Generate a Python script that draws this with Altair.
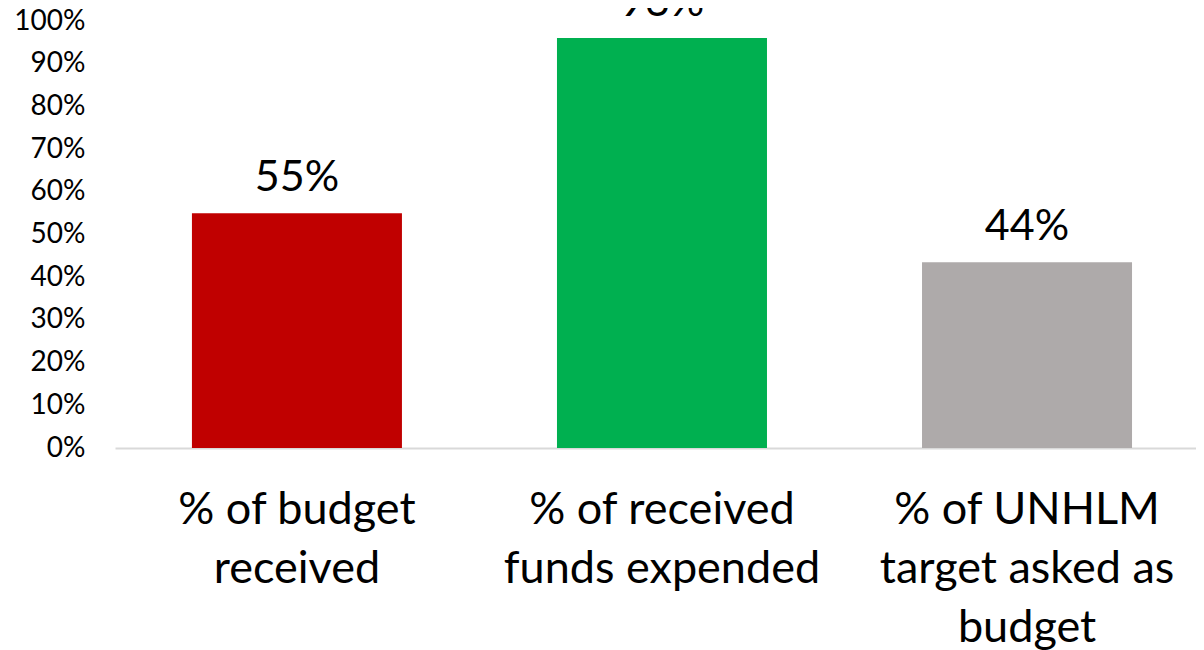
import altair as alt
import pandas as pd

categories = ["% of budget\nreceived", "% of received\nfunds expended", "% of UNHLM\ntarget asked as\nbudget"]
values = [0.55, 0.96, 0.435]
labels = ["55%", "96%", "44%"]
colors = ["#C00000", "#00B050", "#AEAAAA"]
y_ticks = [0.0, 0.1, 0.2, 0.3, 0.4, 0.5, 0.6, 0.7, 0.8, 0.9, 1.0]

df = pd.DataFrame({"cat": categories, "val": values, "lab": labels, "col": colors})

FONT = "Lato"

base = alt.Chart(df).encode(
    x=alt.X("cat:N", sort=categories,
            scale=alt.Scale(paddingInner=0.4247, paddingOuter=0.193, align=0.546),
            axis=alt.Axis(title=None, labelAngle=0, labelFont=FONT, labelFontSize=45,
                          labelColor="#000000", labelPadding=75, labelLineHeight=59,
                          labelBaseline="alphabetic",
                          labelExpr="split(datum.value, '\\n')",
                          domainColor="#D9D9D9", domainWidth=2, ticks=False,
                          labelLimit=0)),
)

bars = base.mark_bar().encode(
    y=alt.Y("val:Q", scale=alt.Scale(domain=[0, 1]),
            axis=alt.Axis(title=None, format=".0%", values=y_ticks, labelOverlap=False,
                          labelFont=FONT, labelFontSize=28, labelColor="#000000",
                          labelPadding=30, ticks=False, domain=False, grid=False)),
    color=alt.Color("col:N", scale=None),
)

text = base.mark_text(font=FONT, fontSize=43, color="#000000", baseline="alphabetic", dy=-22).encode(
    y=alt.Y("val:Q"),
    text="lab:N",
)

chart = (bars + text).properties(
    width=1081, height=427,
    autosize=alt.AutoSizeParams(type="none"),
    padding={"left": 107, "top": 13, "right": 0, "bottom": 212},
).configure_view(stroke=None)

chart.save("out.html", embed_options={"renderer": "svg", "actions": False})
